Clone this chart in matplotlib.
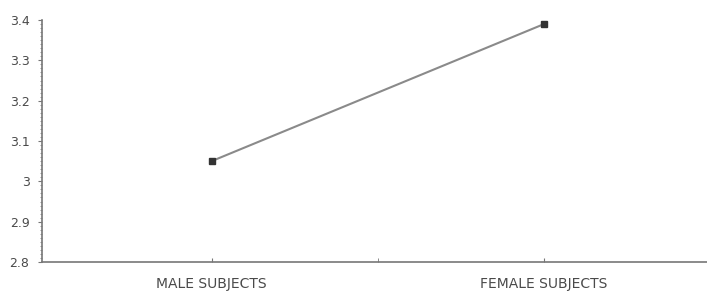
import matplotlib
matplotlib.use("Agg")
import matplotlib.pyplot as plt
import numpy as np

categories = ["MALE SUBJECTS", "FEMALE SUBJECTS"]
values = [3.05, 3.39]
yticks = [2.8, 2.9, 3.0, 3.1, 3.2, 3.3, 3.4]
ytick_labels = ["2.8", "2.9", "3", "3.1", "3.2", "3.3", "3.4"]

fig = plt.figure(figsize=(7.07, 2.93), dpi=100)
ax = fig.add_axes([42/707, 1-262/293, 1-42/707, (262-20)/293])

x = np.arange(len(categories))
ax.plot(x, values, color="#8a8a8a", lw=1.5, zorder=2)
ax.plot(x, values, ls="none", marker="s", ms=4.5, color="#333333", zorder=3)

ax.set_xlim(-0.51, 1.49)
ax.set_ylim(2.8, 3.4)
ax.set_yticks(yticks)
ax.set_yticklabels(ytick_labels)
ax.set_yticks(np.arange(2.8, 3.4001, 0.01), minor=True)
ax.set_xticks(x)
ax.set_xticklabels(categories)
ax.set_xticks([0.5], minor=True)

for s in ["top", "right"]:
    ax.spines[s].set_visible(False)
for s in ["left", "bottom"]:
    ax.spines[s].set_color("#777777")
    ax.spines[s].set_linewidth(1.2)

ax.tick_params(axis="y", which="major", length=3, color="#777777", labelsize=9,
               labelcolor="#4a4a4a", pad=6)
ax.tick_params(axis="y", which="minor", length=1.5, color="#888888")
ax.tick_params(axis="x", which="both", direction="in", length=3, color="#777777",
               labelsize=10, labelcolor="#4a4a4a", pad=11)

plt.savefig("out.png", dpi=100)
